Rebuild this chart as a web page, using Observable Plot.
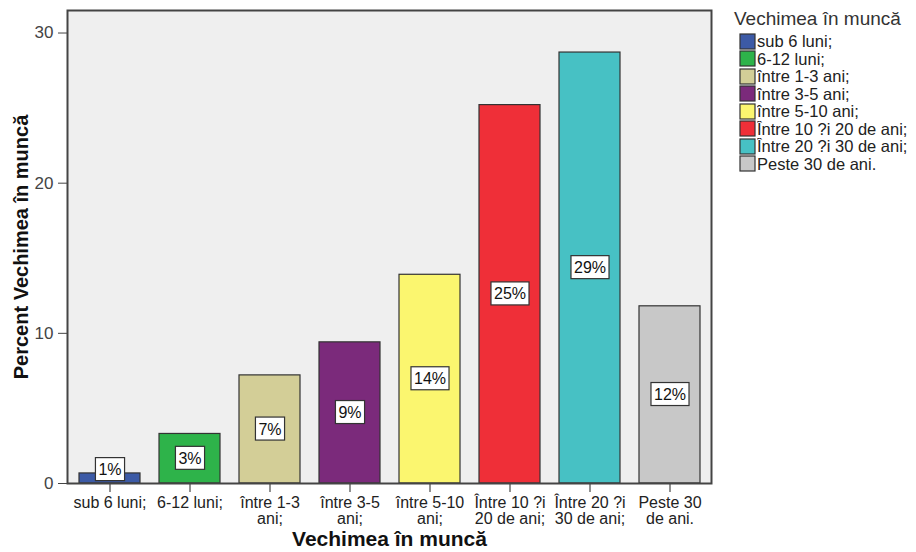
<!DOCTYPE html>
<html><head><meta charset="utf-8">
<script src="https://cdn.jsdelivr.net/npm/d3@7"></script>
<script src="https://cdn.jsdelivr.net/npm/@observablehq/plot@0.6"></script>
<style>
body{margin:0;background:#fff;font-family:"Liberation Sans",Arial,sans-serif;}
#wrap{position:relative;width:916px;height:552px;}
#wrap > svg{position:absolute;left:0;top:0;}
#legend{position:absolute;left:734px;top:9px;color:#222;line-height:1;}
#legend .ttl{font-size:19px;color:#333;margin-bottom:5px;margin-left:0px;}
#legend svg{margin-right:2px !important;overflow:visible;}
#legend svg rect{stroke:#333;stroke-width:1.2px;}
#legendItems{margin-left:6px;margin-top:1px;}
</style></head><body>
<div id="wrap"><div id="legend"><div class="ttl"></div><div id="legendItems"></div></div></div>
<script>
const categories = ["sub 6 luni;", "6-12 luni;", "între 1-3 ani;", "între 3-5 ani;", "între 5-10 ani;", "Între 10 ?i 20 de ani;", "Între 20 ?i 30 de ani;", "Peste 30 de ani."];
const values = [0.67, 3.3, 7.2, 9.4, 13.9, 25.2, 28.7, 11.8];
const tickLabels = ["sub 6 luni;", "6-12 luni;", "între 1-3\nani;", "între 3-5\nani;", "între 5-10\nani;", "Între 10 ?i\n20 de ani;", "Între 20 ?i\n30 de ani;", "Peste 30\nde ani."];
const colors = ["#3c5aa6", "#2eb34a", "#d3ce97", "#7b2a7b", "#fbf66f", "#ef2f38", "#47c1c4", "#c8c8c8"];
const yTicks = [0, 10, 20, 30];
const xTitle = "Vechimea în muncă";
const yTitle = "Percent Vechimea în muncă";
const legendTitle = "Vechimea în muncă";

const data = categories.map((c, i) => ({cat: c, value: values[i], label: Math.round(values[i]) + "%"}));
const font = "Liberation Sans, Arial, sans-serif";

const chart = Plot.plot({
  width: 916, height: 552,
  marginLeft: 67, marginRight: 205, marginTop: 10, marginBottom: 69,
  style: {fontFamily: font, background: "transparent"},
  x: {domain: categories, paddingInner: 0.242, paddingOuter: 0.131},
  y: {domain: [0, 31.5]},
  color: {domain: categories, range: colors},
  marks: [
    Plot.frame({fill: "#efefef", stroke: null}),
    Plot.barY(data, {x: "cat", y: "value", fill: "cat", stroke: "#333", strokeWidth: 1.2}),
    Plot.text(data, {x: "cat", y: d => Math.max(d.value / 2, 0.9), text: "label", fontSize: 16, fill: "#111", className: "vlab"}),
    Plot.axisY({ticks: yTicks, tickSize: 9, tickPadding: 5, fontSize: 17, color: "#444", label: null}),
    Plot.axisX({tickSize: 9, tickPadding: 4, fontSize: 16, lineHeight: 1.0, color: "#222", label: null,
      tickFormat: d => tickLabels[categories.indexOf(d)]}),
    Plot.frame({stroke: "#444", strokeWidth: 2}),
    Plot.text([xTitle], {text: d => d, frameAnchor: "bottom", dy: 56, lineAnchor: "middle", fontSize: 21, fontWeight: "bold", fill: "#111"}),
    Plot.text([yTitle], {text: d => d, frameAnchor: "left", dx: -46, rotate: -90, textAnchor: "middle", lineAnchor: "middle", fontSize: 20, fontWeight: "bold", fill: "#111"})
  ]
});
const wrap = document.getElementById("wrap");
wrap.insertBefore(chart, wrap.firstChild);

// white boxes behind value labels
chart.querySelectorAll("g.vlab text").forEach(t => {
  const bb = t.getBBox();
  const r = document.createElementNS("http://www.w3.org/2000/svg", "rect");
  r.setAttribute("x", bb.x - 3);
  r.setAttribute("y", bb.y - 3.5);
  r.setAttribute("width", bb.width + 6);
  r.setAttribute("height", bb.height + 6);
  r.setAttribute("fill", "#fff");
  r.setAttribute("stroke", "#333");
  r.setAttribute("stroke-width", "1.2");
  if (t.getAttribute("transform")) r.setAttribute("transform", t.getAttribute("transform"));
  t.parentNode.insertBefore(r, t);
});

document.querySelector("#legend .ttl").textContent = legendTitle;
const leg = Plot.legend({
  color: {domain: categories, range: colors},
  legend: "swatches", columns: 1, swatchSize: 15,
  style: {fontSize: "16.5px", fontFamily: font, color: "#222", lineHeight: "1"}
});
document.getElementById("legendItems").appendChild(leg);
</script>
</body></html>
